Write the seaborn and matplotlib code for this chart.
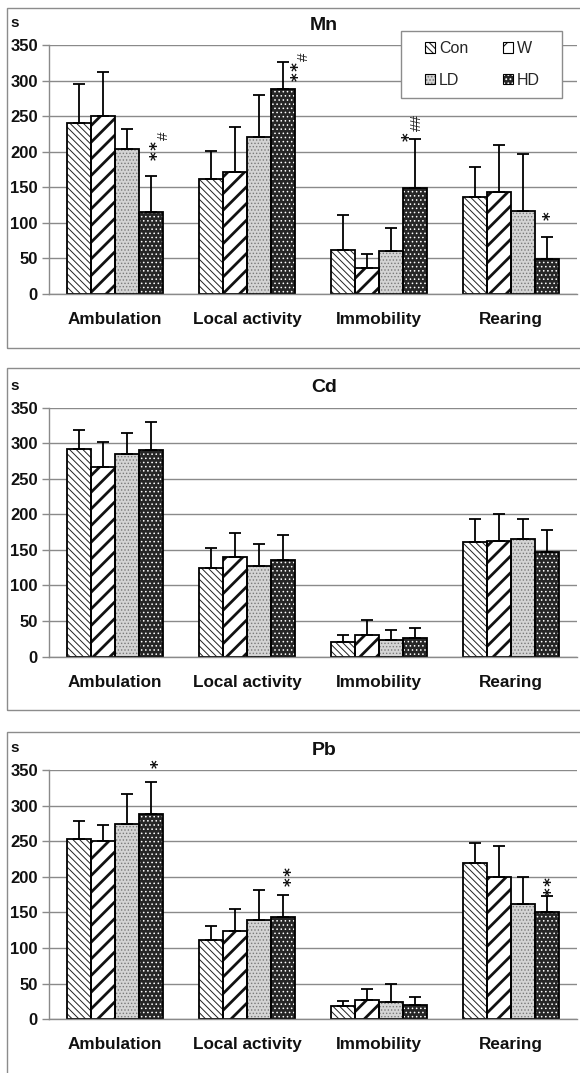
import numpy as np
import pandas as pd
import matplotlib
matplotlib.use("Agg")
import matplotlib.pyplot as plt
import seaborn as sns
from matplotlib.patches import Rectangle, Patch
from matplotlib.legend_handler import HandlerTuple

# ---------------- data ----------------
categories = ["Ambulation", "Local activity", "Immobility", "Rearing"]
groups = ["Con", "W", "LD", "HD"]
panels = ["Mn", "Cd", "Pb"]
yticks = [0, 50, 100, 150, 200, 250, 300, 350]

mn_mean = {"Con": [241, 162, 62, 137], "W": [250, 171, 37, 144],
           "LD": [204, 221, 60, 117], "HD": [115, 288, 149, 49]}
mn_sd = {"Con": [54, 39, 49, 42], "W": [62, 64, 19, 66],
         "LD": [28, 59, 33, 80], "HD": [51, 38, 69, 31]}

cd_mean = {"Con": [292, 125, 21, 161], "W": [267, 140, 31, 163],
           "LD": [285, 127, 23, 165], "HD": [290, 136, 26, 147]}
cd_sd = {"Con": [26, 27, 9, 33], "W": [34, 34, 20, 38],
         "LD": [29, 31, 15, 29], "HD": [40, 35, 14, 31]}

pb_mean = {"Con": [253, 111, 18, 220], "W": [251, 124, 27, 200],
           "LD": [275, 140, 24, 162], "HD": [289, 144, 20, 150]}
pb_sd = {"Con": [26, 20, 7, 27], "W": [22, 31, 15, 44],
         "LD": [42, 42, 25, 38], "HD": [44, 31, 11, 23]}

# significance marks: (category index, symbol, centre height, x shift in px from HD bar centre)
mn_marks = [(0, "**", 201, 3), (0, "#", 222, 13),
            (1, "**", 313, 12), (1, "#", 334, 21),
            (2, "*", 221, -9), (2, "##", 241, 2),
            (3, "*", 110, 0)]
cd_marks = []
pb_marks = [(0, "*", 359, 4),
            (1, "**", 200, 5),
            (3, "**", 187, 1)]

panel_data = [(mn_mean, mn_sd, mn_marks), (cd_mean, cd_sd, cd_marks),
              (pb_mean, pb_sd, pb_marks)]

# ---------------- style ----------------
styles = {
    "Con": dict(face="white", hatch="\\\\\\\\\\", hcolor="#222222", hlw=0.7),
    "W": dict(face="white", hatch="//", hcolor="#111111", hlw=2.0),
    "LD": dict(face="#d4d4d4", hatch=".....", hcolor="#7a7a7a", hlw=0.6),
    "HD": dict(face="#262626", hatch="....", hcolor="white", hlw=0.6),
}
GRID = "#8a8a8a"

sns.set_theme(style="white")
plt.rcParams["font.family"] = ["Liberation Sans", "DejaVu Sans"]
plt.rcParams["hatch.linewidth"] = 0.8

W_PX, H_PX = 580, 1073
fig = plt.figure(figsize=(W_PX / 100, H_PX / 100), dpi=100)

def fx(px):
    return px / W_PX

def fy(py):
    return 1 - py / H_PX

PANEL_STEP = 362.6
AX_LEFT, AX_RIGHT = 49, 577
ZERO_Y, TOP_Y = 294, 45
px_per_unit = (ZERO_Y - TOP_Y) / 350.0
px_per_cat = (AX_RIGHT - AX_LEFT) / 4.0

borders = [(8, 348), (368, 710), (732, 1085)]

def style_patch(p, g):
    st = styles[g]
    p.set_facecolor(st["face"])
    p.set_edgecolor(st["hcolor"])
    p.set_hatch(st["hatch"])
    p.set_linewidth(0)
    if hasattr(p, "set_hatch_linewidth"):
        p.set_hatch_linewidth(st["hlw"])

for k, (name, (means, sds, marks)) in enumerate(zip(panels, panel_data)):
    off = k * PANEL_STEP
    ax = fig.add_axes([fx(AX_LEFT), fy(ZERO_Y + off),
                       fx(AX_RIGHT - AX_LEFT), (ZERO_Y - TOP_Y) / H_PX])
    rows = []
    for g in groups:
        for c, v, s in zip(categories, means[g], sds[g]):
            rows.append(dict(category=c, group=g, value=v, sd=s))
    df = pd.DataFrame(rows)

    sns.barplot(data=df, x="category", y="value", hue="group",
                order=categories, hue_order=groups, errorbar=None,
                width=0.73, saturation=1, legend=False, ax=ax,
                palette={g: styles[g]["face"] for g in groups})

    hd_centers = None
    for g, cont in zip(groups, ax.containers):
        xs = []
        for p in cont.patches:
            style_patch(p, g)
            ax.add_patch(Rectangle(p.get_xy(), p.get_width(), p.get_height(),
                                   fill=False, edgecolor="black", lw=1.3,
                                   zorder=2.5))
            xs.append(p.get_x() + p.get_width() / 2)
        sub = df[df.group == g]
        ax.errorbar(xs, sub["value"].values,
                    yerr=[np.zeros(len(xs)), sub["sd"].values],
                    fmt="none", ecolor="black", elinewidth=1.3,
                    capsize=4, capthick=1.3, zorder=3)
        if g == "HD":
            hd_centers = xs

    # significance marks (rotated, stacked like the original)
    for ci, sym, h, dxp in marks:
        if sym.startswith("*"):
            x = hd_centers[ci] + (dxp + 4) / px_per_cat
            ax.text(x, h, "\u200a".join(sym), ha="center", va="center",
                    rotation=90, fontsize=12, family="DejaVu Sans",
                    fontweight="bold", color="#111111", clip_on=False,
                    zorder=6)
        else:
            x = hd_centers[ci] + dxp / px_per_cat
            ax.text(x, h, sym, ha="center", va="center", rotation=90,
                    fontsize=11, color="#222222", clip_on=False, zorder=6)

    ax.set_ylim(0, 350)
    ax.set_xlim(-0.5, 3.5)
    ax.set_yticks(yticks)
    ax.set_yticklabels([str(t) for t in yticks], fontweight="bold",
                       fontsize=12, color="#111111")
    ax.set_xticks(range(len(categories)))
    ax.set_xticklabels(categories, fontweight="bold", fontsize=12.3,
                       color="#111111")
    ax.set_xticks([-0.5, 0.5, 1.5, 2.5, 3.5], minor=True)
    ax.tick_params(axis="x", which="major", length=0, pad=13)
    ax.tick_params(axis="x", which="minor", length=5, width=1,
                   color=GRID, direction="out")
    ax.tick_params(axis="y", which="major", length=5, width=1, color=GRID,
                   direction="out", pad=3, left=True)
    ax.set_xlabel("")
    ax.set_ylabel("")
    ax.set_axisbelow(True)
    ax.yaxis.grid(True, color=GRID, lw=1)
    ax.xaxis.grid(False)
    for sp in ["top", "right"]:
        ax.spines[sp].set_visible(False)
    for sp in ["left", "bottom"]:
        ax.spines[sp].set_color(GRID)
        ax.spines[sp].set_linewidth(1)
    ax.set_facecolor("none")

    # titles and unit
    fig.text(fx(324), fy(25 + off), name, ha="center", va="center",
             fontsize=14, fontweight="bold", color="#111111")
    fig.text(fx(10), fy(23 + off), "s", ha="left", va="center",
             fontsize=11, fontweight="bold", color="#111111")

    # panel border
    t, b = borders[k]
    fig.add_artist(Rectangle((fx(7), fy(b)), fx(600), (b - t) / H_PX,
                             transform=fig.transFigure, fill=False,
                             edgecolor="#8c8c8c", lw=1))

    if k == 0:
        # legend frame
        bx0, bx1, by0, by1 = 401, 562, 31, 98
        ax.add_patch(Rectangle((fx(bx0), fy(by1)), fx(bx1 - bx0),
                               (by1 - by0) / H_PX, transform=fig.transFigure,
                               facecolor="white", edgecolor="#8c8c8c", lw=1,
                               zorder=4, clip_on=False))
        handles = []
        for g in groups:
            st = styles[g]
            hp = Patch(facecolor=st["face"], edgecolor=st["hcolor"],
                       hatch=st["hatch"], lw=0)
            op = Patch(facecolor="none", edgecolor="black", lw=0.8)
            handles.append((hp, op))
        # column-major with ncol=2 -> rows: Con W / LD HD
        order = [0, 2, 1, 3]
        leg = ax.legend([handles[i] for i in order], [groups[i] for i in order],
                        handler_map={tuple: HandlerTuple(ndivide=1, pad=0)},
                        ncol=2, loc="center",
                        bbox_to_anchor=(fx((bx0 + bx1) / 2) + 0.002, fy((by0 + by1) / 2)),
                        bbox_transform=fig.transFigure, frameon=False,
                        fontsize=11.5, handlelength=0.6, handleheight=0.6,
                        handletextpad=0.25, columnspacing=2.2,
                        labelspacing=1.05, borderpad=0.2)
        leg.set_zorder(5)

fig.savefig("out.png", dpi=100, facecolor="white")
